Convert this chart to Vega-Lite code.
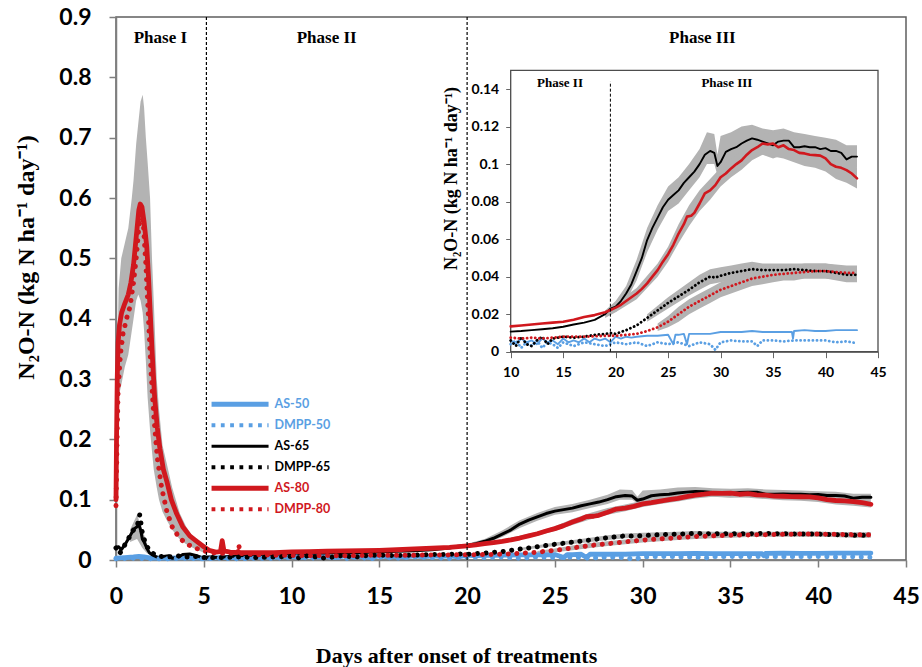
{
  "$schema": "https://vega.github.io/schema/vega-lite/v6.json",
  "width": 790,
  "height": 543,
  "autosize": {"type": "none"},
  "padding": {"left": 116, "top": 17, "right": 16, "bottom": 107},
  "background": "white",
  "config": {
    "view": {"stroke": "#5f5f5f", "strokeWidth": 1.5},
    "axis": {"grid": false},
    "line": {"strokeCap": "round", "strokeJoin": "round"}
  },
  "datasets": {
    "flux": [
      {"s":"AS-50","d":0,"v":0.003},{"s":"AS-50","d":0.5,"v":0.004},{"s":"AS-50","d":1,"v":0.005},{"s":"AS-50","d":1.3,"v":0.006},{"s":"AS-50","d":1.6,"v":0.005},{"s":"AS-50","d":2,"v":0.003},{"s":"AS-50","d":3,"v":0.003},{"s":"AS-50","d":4,"v":0.004},{"s":"AS-50","d":5,"v":0.003},{"s":"AS-50","d":6,"v":0.004},{"s":"AS-50","d":7,"v":0.004},{"s":"AS-50","d":8,"v":0.005},{"s":"AS-50","d":9,"v":0.005},{"s":"AS-50","d":10,"v":0.006},{"s":"AS-50","d":10.5,"v":0.004},{"s":"AS-50","d":11,"v":0.007},{"s":"AS-50","d":11.5,"v":0.005},{"s":"AS-50","d":12,"v":0.006},{"s":"AS-50","d":12.5,"v":0.004},{"s":"AS-50","d":13,"v":0.007},{"s":"AS-50","d":13.5,"v":0.005},{"s":"AS-50","d":14,"v":0.006},{"s":"AS-50","d":14.5,"v":0.004},{"s":"AS-50","d":15,"v":0.007},{"s":"AS-50","d":15.5,"v":0.005},{"s":"AS-50","d":16,"v":0.006},{"s":"AS-50","d":16.5,"v":0.005},{"s":"AS-50","d":17,"v":0.007},{"s":"AS-50","d":17.5,"v":0.005},{"s":"AS-50","d":18,"v":0.007},{"s":"AS-50","d":18.5,"v":0.006},{"s":"AS-50","d":19,"v":0.007},{"s":"AS-50","d":19.5,"v":0.005},{"s":"AS-50","d":20,"v":0.008},{"s":"AS-50","d":20.5,"v":0.007},{"s":"AS-50","d":21,"v":0.008},{"s":"AS-50","d":21.5,"v":0.0075},{"s":"AS-50","d":22,"v":0.008},{"s":"AS-50","d":23,"v":0.0085},{"s":"AS-50","d":24,"v":0.0085},{"s":"AS-50","d":25,"v":0.009},{"s":"AS-50","d":25.5,"v":0.004},{"s":"AS-50","d":25.7,"v":0.009},{"s":"AS-50","d":26,"v":0.009},{"s":"AS-50","d":26.5,"v":0.0095},{"s":"AS-50","d":26.8,"v":0.004},{"s":"AS-50","d":27,"v":0.0095},{"s":"AS-50","d":28,"v":0.0095},{"s":"AS-50","d":29,"v":0.0095},{"s":"AS-50","d":30,"v":0.0105},{"s":"AS-50","d":31,"v":0.0105},{"s":"AS-50","d":32,"v":0.0105},{"s":"AS-50","d":33,"v":0.011},{"s":"AS-50","d":34,"v":0.0105},{"s":"AS-50","d":35,"v":0.0105},{"s":"AS-50","d":36,"v":0.0105},{"s":"AS-50","d":36.8,"v":0.0105},{"s":"AS-50","d":36.9,"v":0.007},{"s":"AS-50","d":37,"v":0.011},{"s":"AS-50","d":38,"v":0.0115},{"s":"AS-50","d":39,"v":0.011},{"s":"AS-50","d":40,"v":0.011},{"s":"AS-50","d":41,"v":0.0115},{"s":"AS-50","d":42,"v":0.0115},{"s":"AS-50","d":43,"v":0.0115},

      {"s":"DMPP-50","d":0,"v":0.002},{"s":"DMPP-50","d":1,"v":0.003},{"s":"DMPP-50","d":2,"v":0.002},{"s":"DMPP-50","d":3,"v":0.002},{"s":"DMPP-50","d":4,"v":0.003},{"s":"DMPP-50","d":5,"v":0.002},{"s":"DMPP-50","d":6,"v":0.003},{"s":"DMPP-50","d":7,"v":0.002},{"s":"DMPP-50","d":8,"v":0.003},{"s":"DMPP-50","d":9,"v":0.003},{"s":"DMPP-50","d":10,"v":0.004},{"s":"DMPP-50","d":10.5,"v":0.006},{"s":"DMPP-50","d":11,"v":0.002},{"s":"DMPP-50","d":11.5,"v":0.005},{"s":"DMPP-50","d":12,"v":0.003},{"s":"DMPP-50","d":12.5,"v":0.006},{"s":"DMPP-50","d":13,"v":0.002},{"s":"DMPP-50","d":13.5,"v":0.005},{"s":"DMPP-50","d":14,"v":0.004},{"s":"DMPP-50","d":14.5,"v":0.002},{"s":"DMPP-50","d":15,"v":0.005},{"s":"DMPP-50","d":16,"v":0.003},{"s":"DMPP-50","d":17,"v":0.005},{"s":"DMPP-50","d":18,"v":0.004},{"s":"DMPP-50","d":19,"v":0.003},{"s":"DMPP-50","d":20,"v":0.005},{"s":"DMPP-50","d":21,"v":0.004},{"s":"DMPP-50","d":22,"v":0.005},{"s":"DMPP-50","d":23,"v":0.003},{"s":"DMPP-50","d":24,"v":0.005},{"s":"DMPP-50","d":25,"v":0.004},{"s":"DMPP-50","d":26,"v":0.005},{"s":"DMPP-50","d":27,"v":0.003},{"s":"DMPP-50","d":28,"v":0.005},{"s":"DMPP-50","d":29,"v":0.004},{"s":"DMPP-50","d":29.5,"v":0.001},{"s":"DMPP-50","d":30,"v":0.005},{"s":"DMPP-50","d":31,"v":0.006},{"s":"DMPP-50","d":32,"v":0.0055},{"s":"DMPP-50","d":33,"v":0.0055},{"s":"DMPP-50","d":33.5,"v":0.003},{"s":"DMPP-50","d":34,"v":0.006},{"s":"DMPP-50","d":35,"v":0.006},{"s":"DMPP-50","d":36,"v":0.0055},{"s":"DMPP-50","d":37,"v":0.006},{"s":"DMPP-50","d":38,"v":0.006},{"s":"DMPP-50","d":39,"v":0.006},{"s":"DMPP-50","d":40,"v":0.006},{"s":"DMPP-50","d":41,"v":0.005},{"s":"DMPP-50","d":42,"v":0.0055},{"s":"DMPP-50","d":43,"v":0.0045},

      {"s":"AS-65","d":0,"v":0.02},{"s":"AS-65","d":0.15,"v":0.022},{"s":"AS-65","d":0.3,"v":0.017},{"s":"AS-65","d":0.5,"v":0.025},{"s":"AS-65","d":0.7,"v":0.035},{"s":"AS-65","d":0.9,"v":0.045},{"s":"AS-65","d":1.05,"v":0.052},{"s":"AS-65","d":1.2,"v":0.055},{"s":"AS-65","d":1.3,"v":0.06},{"s":"AS-65","d":1.4,"v":0.05},{"s":"AS-65","d":1.5,"v":0.035},{"s":"AS-65","d":1.6,"v":0.03},{"s":"AS-65","d":1.75,"v":0.02},{"s":"AS-65","d":1.9,"v":0.012},{"s":"AS-65","d":2.1,"v":0.008},{"s":"AS-65","d":2.4,"v":0.004},{"s":"AS-65","d":2.7,"v":0.006},{"s":"AS-65","d":3,"v":0.007},{"s":"AS-65","d":3.2,"v":0.003},{"s":"AS-65","d":3.5,"v":0.004},{"s":"AS-65","d":3.8,"v":0.009},{"s":"AS-65","d":4.2,"v":0.01},{"s":"AS-65","d":4.6,"v":0.007},{"s":"AS-65","d":4.9,"v":0.004},{"s":"AS-65","d":5.3,"v":0.005},{"s":"AS-65","d":5.8,"v":0.004},{"s":"AS-65","d":6.5,"v":0.006},{"s":"AS-65","d":7,"v":0.007},{"s":"AS-65","d":8,"v":0.008},{"s":"AS-65","d":9,"v":0.0095},{"s":"AS-65","d":10,"v":0.0107},{"s":"AS-65","d":11,"v":0.011},{"s":"AS-65","d":12,"v":0.0115},{"s":"AS-65","d":13,"v":0.012},{"s":"AS-65","d":14,"v":0.0125},{"s":"AS-65","d":15,"v":0.0133},{"s":"AS-65","d":16,"v":0.0145},{"s":"AS-65","d":17,"v":0.0155},{"s":"AS-65","d":18,"v":0.017},{"s":"AS-65","d":19,"v":0.02},{"s":"AS-65","d":19.5,"v":0.023},{"s":"AS-65","d":20,"v":0.024},{"s":"AS-65","d":20.5,"v":0.027},{"s":"AS-65","d":21,"v":0.031},{"s":"AS-65","d":21.5,"v":0.036},{"s":"AS-65","d":22,"v":0.043},{"s":"AS-65","d":22.5,"v":0.05},{"s":"AS-65","d":23,"v":0.0595},{"s":"AS-65","d":23.5,"v":0.066},{"s":"AS-65","d":24,"v":0.0715},{"s":"AS-65","d":24.5,"v":0.077},{"s":"AS-65","d":25,"v":0.081},{"s":"AS-65","d":25.5,"v":0.0835},{"s":"AS-65","d":26,"v":0.086},{"s":"AS-65","d":26.5,"v":0.09},{"s":"AS-65","d":27,"v":0.093},{"s":"AS-65","d":27.5,"v":0.096},{"s":"AS-65","d":28,"v":0.1},{"s":"AS-65","d":28.5,"v":0.105},{"s":"AS-65","d":29,"v":0.107},{"s":"AS-65","d":29.4,"v":0.106},{"s":"AS-65","d":29.7,"v":0.099},{"s":"AS-65","d":30,"v":0.101},{"s":"AS-65","d":30.5,"v":0.1065},{"s":"AS-65","d":31,"v":0.108},{"s":"AS-65","d":31.5,"v":0.109},{"s":"AS-65","d":32,"v":0.111},{"s":"AS-65","d":32.5,"v":0.1125},{"s":"AS-65","d":33,"v":0.1137},{"s":"AS-65","d":33.5,"v":0.113},{"s":"AS-65","d":34,"v":0.112},{"s":"AS-65","d":34.5,"v":0.111},{"s":"AS-65","d":35,"v":0.11},{"s":"AS-65","d":35.5,"v":0.112},{"s":"AS-65","d":36,"v":0.1125},{"s":"AS-65","d":36.5,"v":0.1125},{"s":"AS-65","d":37,"v":0.109},{"s":"AS-65","d":37.5,"v":0.109},{"s":"AS-65","d":38,"v":0.1095},{"s":"AS-65","d":38.5,"v":0.109},{"s":"AS-65","d":39,"v":0.109},{"s":"AS-65","d":39.5,"v":0.108},{"s":"AS-65","d":40,"v":0.1085},{"s":"AS-65","d":40.5,"v":0.107},{"s":"AS-65","d":41,"v":0.107},{"s":"AS-65","d":41.5,"v":0.106},{"s":"AS-65","d":42,"v":0.1025},{"s":"AS-65","d":42.5,"v":0.104},{"s":"AS-65","d":43,"v":0.104},

      {"s":"DMPP-65","d":0,"v":0.02},{"s":"DMPP-65","d":0.2,"v":0.01},{"s":"DMPP-65","d":0.4,"v":0.02},{"s":"DMPP-65","d":0.6,"v":0.03},{"s":"DMPP-65","d":0.8,"v":0.04},{"s":"DMPP-65","d":1,"v":0.05},{"s":"DMPP-65","d":1.2,"v":0.055},{"s":"DMPP-65","d":1.35,"v":0.075},{"s":"DMPP-65","d":1.5,"v":0.045},{"s":"DMPP-65","d":1.7,"v":0.025},{"s":"DMPP-65","d":2,"v":0.012},{"s":"DMPP-65","d":2.5,"v":0.006},{"s":"DMPP-65","d":3,"v":0.005},{"s":"DMPP-65","d":3.5,"v":0.007},{"s":"DMPP-65","d":4,"v":0.005},{"s":"DMPP-65","d":4.5,"v":0.006},{"s":"DMPP-65","d":5,"v":0.004},{"s":"DMPP-65","d":6,"v":0.004},{"s":"DMPP-65","d":7,"v":0.005},{"s":"DMPP-65","d":8,"v":0.004},{"s":"DMPP-65","d":9,"v":0.005},{"s":"DMPP-65","d":10,"v":0.006},{"s":"DMPP-65","d":10.5,"v":0.003},{"s":"DMPP-65","d":11,"v":0.008},{"s":"DMPP-65","d":11.5,"v":0.004},{"s":"DMPP-65","d":12,"v":0.003},{"s":"DMPP-65","d":12.5,"v":0.006},{"s":"DMPP-65","d":13,"v":0.008},{"s":"DMPP-65","d":13.5,"v":0.004},{"s":"DMPP-65","d":14,"v":0.007},{"s":"DMPP-65","d":15,"v":0.008},{"s":"DMPP-65","d":16,"v":0.0075},{"s":"DMPP-65","d":17,"v":0.008},{"s":"DMPP-65","d":18,"v":0.009},{"s":"DMPP-65","d":19,"v":0.0095},{"s":"DMPP-65","d":19.5,"v":0.01},{"s":"DMPP-65","d":20,"v":0.0095},{"s":"DMPP-65","d":21,"v":0.0115},{"s":"DMPP-65","d":22,"v":0.014},{"s":"DMPP-65","d":23,"v":0.018},{"s":"DMPP-65","d":24,"v":0.022},{"s":"DMPP-65","d":25,"v":0.026},{"s":"DMPP-65","d":26,"v":0.0295},{"s":"DMPP-65","d":27,"v":0.033},{"s":"DMPP-65","d":28,"v":0.037},{"s":"DMPP-65","d":29,"v":0.04},{"s":"DMPP-65","d":29.5,"v":0.0395},{"s":"DMPP-65","d":30,"v":0.0405},{"s":"DMPP-65","d":31,"v":0.042},{"s":"DMPP-65","d":32,"v":0.043},{"s":"DMPP-65","d":33,"v":0.044},{"s":"DMPP-65","d":34,"v":0.0435},{"s":"DMPP-65","d":35,"v":0.0435},{"s":"DMPP-65","d":36,"v":0.0435},{"s":"DMPP-65","d":37,"v":0.044},{"s":"DMPP-65","d":38,"v":0.0435},{"s":"DMPP-65","d":39,"v":0.043},{"s":"DMPP-65","d":40,"v":0.043},{"s":"DMPP-65","d":41,"v":0.042},{"s":"DMPP-65","d":42,"v":0.041},{"s":"DMPP-65","d":43,"v":0.041},

      {"s":"AS-80","d":0,"v":0.1},{"s":"AS-80","d":0.03,"v":0.2},{"s":"AS-80","d":0.07,"v":0.3},{"s":"AS-80","d":0.12,"v":0.36},{"s":"AS-80","d":0.2,"v":0.39},{"s":"AS-80","d":0.32,"v":0.41},{"s":"AS-80","d":0.5,"v":0.425},{"s":"AS-80","d":0.7,"v":0.44},{"s":"AS-80","d":0.85,"v":0.46},{"s":"AS-80","d":1,"v":0.49},{"s":"AS-80","d":1.1,"v":0.52},{"s":"AS-80","d":1.2,"v":0.55},{"s":"AS-80","d":1.3,"v":0.58},{"s":"AS-80","d":1.38,"v":0.59},{"s":"AS-80","d":1.48,"v":0.585},{"s":"AS-80","d":1.6,"v":0.56},{"s":"AS-80","d":1.75,"v":0.52},{"s":"AS-80","d":1.85,"v":0.47},{"s":"AS-80","d":1.95,"v":0.41},{"s":"AS-80","d":2.05,"v":0.35},{"s":"AS-80","d":2.2,"v":0.27},{"s":"AS-80","d":2.35,"v":0.22},{"s":"AS-80","d":2.5,"v":0.185},{"s":"AS-80","d":2.7,"v":0.15},{"s":"AS-80","d":2.9,"v":0.13},{"s":"AS-80","d":3.15,"v":0.1},{"s":"AS-80","d":3.45,"v":0.077},{"s":"AS-80","d":3.8,"v":0.055},{"s":"AS-80","d":4.2,"v":0.04},{"s":"AS-80","d":4.6,"v":0.031},{"s":"AS-80","d":5,"v":0.022},{"s":"AS-80","d":5.3,"v":0.016},{"s":"AS-80","d":5.7,"v":0.013},{"s":"AS-80","d":5.95,"v":0.014},{"s":"AS-80","d":6.05,"v":0.032},{"s":"AS-80","d":6.15,"v":0.015},{"s":"AS-80","d":6.5,"v":0.013},{"s":"AS-80","d":7,"v":0.012},{"s":"AS-80","d":8,"v":0.012},{"s":"AS-80","d":9,"v":0.012},{"s":"AS-80","d":10,"v":0.0135},{"s":"AS-80","d":11,"v":0.014},{"s":"AS-80","d":12,"v":0.0145},{"s":"AS-80","d":13,"v":0.015},{"s":"AS-80","d":14,"v":0.0155},{"s":"AS-80","d":15,"v":0.016},{"s":"AS-80","d":16,"v":0.017},{"s":"AS-80","d":17,"v":0.0185},{"s":"AS-80","d":18,"v":0.0195},{"s":"AS-80","d":19,"v":0.021},{"s":"AS-80","d":19.5,"v":0.0222},{"s":"AS-80","d":20,"v":0.0235},{"s":"AS-80","d":20.5,"v":0.025},{"s":"AS-80","d":21,"v":0.027},{"s":"AS-80","d":21.5,"v":0.029},{"s":"AS-80","d":22,"v":0.031},{"s":"AS-80","d":22.5,"v":0.0335},{"s":"AS-80","d":23,"v":0.0364},{"s":"AS-80","d":23.5,"v":0.04},{"s":"AS-80","d":24,"v":0.0435},{"s":"AS-80","d":24.5,"v":0.048},{"s":"AS-80","d":25,"v":0.052},{"s":"AS-80","d":25.5,"v":0.057},{"s":"AS-80","d":26,"v":0.063},{"s":"AS-80","d":26.5,"v":0.068},{"s":"AS-80","d":26.8,"v":0.072},{"s":"AS-80","d":27.2,"v":0.0725},{"s":"AS-80","d":27.5,"v":0.074},{"s":"AS-80","d":28,"v":0.079},{"s":"AS-80","d":28.5,"v":0.0844},{"s":"AS-80","d":29,"v":0.086},{"s":"AS-80","d":29.5,"v":0.0888},{"s":"AS-80","d":30,"v":0.093},{"s":"AS-80","d":30.5,"v":0.095},{"s":"AS-80","d":31,"v":0.0977},{"s":"AS-80","d":31.5,"v":0.1},{"s":"AS-80","d":32,"v":0.102},{"s":"AS-80","d":32.5,"v":0.105},{"s":"AS-80","d":33,"v":0.1075},{"s":"AS-80","d":33.5,"v":0.109},{"s":"AS-80","d":34,"v":0.111},{"s":"AS-80","d":34.5,"v":0.1105},{"s":"AS-80","d":35,"v":0.111},{"s":"AS-80","d":35.5,"v":0.109},{"s":"AS-80","d":36,"v":0.11},{"s":"AS-80","d":36.5,"v":0.108},{"s":"AS-80","d":37,"v":0.1075},{"s":"AS-80","d":37.5,"v":0.106},{"s":"AS-80","d":38,"v":0.1057},{"s":"AS-80","d":38.5,"v":0.105},{"s":"AS-80","d":39,"v":0.1048},{"s":"AS-80","d":39.5,"v":0.1045},{"s":"AS-80","d":40,"v":0.103},{"s":"AS-80","d":40.5,"v":0.1},{"s":"AS-80","d":41,"v":0.0986},{"s":"AS-80","d":41.5,"v":0.098},{"s":"AS-80","d":42,"v":0.0968},{"s":"AS-80","d":42.5,"v":0.095},{"s":"AS-80","d":43,"v":0.0924},

      {"s":"DMPP-80","d":0,"v":0.09},{"s":"DMPP-80","d":0.02,"v":0.12},{"s":"DMPP-80","d":0.06,"v":0.2},{"s":"DMPP-80","d":0.12,"v":0.28},{"s":"DMPP-80","d":0.25,"v":0.34},{"s":"DMPP-80","d":0.4,"v":0.375},{"s":"DMPP-80","d":0.6,"v":0.4},{"s":"DMPP-80","d":0.8,"v":0.42},{"s":"DMPP-80","d":1,"v":0.46},{"s":"DMPP-80","d":1.15,"v":0.5},{"s":"DMPP-80","d":1.3,"v":0.55},{"s":"DMPP-80","d":1.42,"v":0.575},{"s":"DMPP-80","d":1.55,"v":0.56},{"s":"DMPP-80","d":1.7,"v":0.49},{"s":"DMPP-80","d":1.85,"v":0.4},{"s":"DMPP-80","d":2,"v":0.31},{"s":"DMPP-80","d":2.15,"v":0.24},{"s":"DMPP-80","d":2.35,"v":0.17},{"s":"DMPP-80","d":2.6,"v":0.12},{"s":"DMPP-80","d":2.9,"v":0.08},{"s":"DMPP-80","d":3.2,"v":0.055},{"s":"DMPP-80","d":3.6,"v":0.037},{"s":"DMPP-80","d":4,"v":0.027},{"s":"DMPP-80","d":4.5,"v":0.02},{"s":"DMPP-80","d":5,"v":0.015},{"s":"DMPP-80","d":5.5,"v":0.012},{"s":"DMPP-80","d":6,"v":0.011},{"s":"DMPP-80","d":6.5,"v":0.011},{"s":"DMPP-80","d":6.95,"v":0.011},{"s":"DMPP-80","d":7,"v":0.025},{"s":"DMPP-80","d":7.05,"v":0.011},{"s":"DMPP-80","d":8,"v":0.009},{"s":"DMPP-80","d":9,"v":0.008},{"s":"DMPP-80","d":10,"v":0.0075},{"s":"DMPP-80","d":11,"v":0.007},{"s":"DMPP-80","d":12,"v":0.0075},{"s":"DMPP-80","d":13,"v":0.007},{"s":"DMPP-80","d":14,"v":0.0075},{"s":"DMPP-80","d":15,"v":0.008},{"s":"DMPP-80","d":16,"v":0.008},{"s":"DMPP-80","d":17,"v":0.008},{"s":"DMPP-80","d":18,"v":0.0082},{"s":"DMPP-80","d":19,"v":0.0085},{"s":"DMPP-80","d":20,"v":0.0085},{"s":"DMPP-80","d":21,"v":0.009},{"s":"DMPP-80","d":22,"v":0.0095},{"s":"DMPP-80","d":23,"v":0.011},{"s":"DMPP-80","d":24,"v":0.013},{"s":"DMPP-80","d":25,"v":0.016},{"s":"DMPP-80","d":26,"v":0.02},{"s":"DMPP-80","d":27,"v":0.024},{"s":"DMPP-80","d":28,"v":0.027},{"s":"DMPP-80","d":29,"v":0.03},{"s":"DMPP-80","d":30,"v":0.033},{"s":"DMPP-80","d":31,"v":0.035},{"s":"DMPP-80","d":32,"v":0.037},{"s":"DMPP-80","d":33,"v":0.039},{"s":"DMPP-80","d":34,"v":0.04},{"s":"DMPP-80","d":35,"v":0.041},{"s":"DMPP-80","d":36,"v":0.0415},{"s":"DMPP-80","d":37,"v":0.042},{"s":"DMPP-80","d":38,"v":0.0425},{"s":"DMPP-80","d":39,"v":0.043},{"s":"DMPP-80","d":40,"v":0.043},{"s":"DMPP-80","d":41,"v":0.0425},{"s":"DMPP-80","d":42,"v":0.042},{"s":"DMPP-80","d":43,"v":0.042}
    ],
    "band": [
      {"g":"p1","d":0,"lo":0.09,"hi":0.11},{"g":"p1","d":0.05,"lo":0.2,"hi":0.3},{"g":"p1","d":0.15,"lo":0.27,"hi":0.45},{"g":"p1","d":0.3,"lo":0.29,"hi":0.5},{"g":"p1","d":0.5,"lo":0.32,"hi":0.525},{"g":"p1","d":0.7,"lo":0.34,"hi":0.55},{"g":"p1","d":0.9,"lo":0.38,"hi":0.6},{"g":"p1","d":1,"lo":0.4,"hi":0.63},{"g":"p1","d":1.15,"lo":0.43,"hi":0.69},{"g":"p1","d":1.27,"lo":0.44,"hi":0.724},{"g":"p1","d":1.4,"lo":0.43,"hi":0.76},{"g":"p1","d":1.52,"lo":0.41,"hi":0.771},{"g":"p1","d":1.6,"lo":0.38,"hi":0.75},{"g":"p1","d":1.7,"lo":0.33,"hi":0.7},{"g":"p1","d":1.8,"lo":0.27,"hi":0.66},{"g":"p1","d":1.94,"lo":0.215,"hi":0.6},{"g":"p1","d":2.05,"lo":0.18,"hi":0.5},{"g":"p1","d":2.15,"lo":0.15,"hi":0.43},{"g":"p1","d":2.32,"lo":0.12,"hi":0.3},{"g":"p1","d":2.45,"lo":0.1,"hi":0.25},{"g":"p1","d":2.65,"lo":0.08,"hi":0.19},{"g":"p1","d":2.89,"lo":0.066,"hi":0.16},{"g":"p1","d":3.2,"lo":0.05,"hi":0.12},{"g":"p1","d":3.64,"lo":0.034,"hi":0.077},{"g":"p1","d":4,"lo":0.026,"hi":0.055},{"g":"p1","d":4.4,"lo":0.02,"hi":0.038},{"g":"p1","d":5,"lo":0.012,"hi":0.02},
      {"g":"e65","d":0.8,"lo":0.03,"hi":0.05},{"g":"e65","d":1.2,"lo":0.035,"hi":0.075},{"g":"e65","d":1.5,"lo":0.02,"hi":0.05},{"g":"e65","d":1.8,"lo":0.01,"hi":0.025},
      {"g":"a65","d":19,"lo":0.018,"hi":0.022},{"g":"a65","d":20,"lo":0.021,"hi":0.027},{"g":"a65","d":21,"lo":0.027,"hi":0.035},{"g":"a65","d":22,"lo":0.038,"hi":0.049},{"g":"a65","d":23,"lo":0.053,"hi":0.066},{"g":"a65","d":24,"lo":0.065,"hi":0.078},{"g":"a65","d":25,"lo":0.075,"hi":0.088},{"g":"a65","d":26,"lo":0.079,"hi":0.093},{"g":"a65","d":27,"lo":0.086,"hi":0.1},{"g":"a65","d":28,"lo":0.093,"hi":0.108},{"g":"a65","d":28.7,"lo":0.1,"hi":0.117},{"g":"a65","d":29.4,"lo":0.1,"hi":0.116},{"g":"a65","d":29.7,"lo":0.094,"hi":0.105},{"g":"a65","d":30,"lo":0.096,"hi":0.115},{"g":"a65","d":31,"lo":0.101,"hi":0.117},{"g":"a65","d":32,"lo":0.104,"hi":0.12},{"g":"a65","d":33,"lo":0.106,"hi":0.121},{"g":"a65","d":34,"lo":0.105,"hi":0.119},{"g":"a65","d":35,"lo":0.103,"hi":0.118},{"g":"a65","d":36,"lo":0.105,"hi":0.119},{"g":"a65","d":37,"lo":0.102,"hi":0.117},{"g":"a65","d":38,"lo":0.102,"hi":0.116},{"g":"a65","d":39,"lo":0.102,"hi":0.115},{"g":"a65","d":40,"lo":0.101,"hi":0.114},{"g":"a65","d":41,"lo":0.1,"hi":0.113},{"g":"a65","d":42,"lo":0.097,"hi":0.11},{"g":"a65","d":43,"lo":0.098,"hi":0.11},
      {"g":"a80","d":20,"lo":0.021,"hi":0.026},{"g":"a80","d":22,"lo":0.028,"hi":0.034},{"g":"a80","d":24,"lo":0.04,"hi":0.047},{"g":"a80","d":25,"lo":0.048,"hi":0.056},{"g":"a80","d":26,"lo":0.058,"hi":0.068},{"g":"a80","d":27,"lo":0.067,"hi":0.078},{"g":"a80","d":28,"lo":0.075,"hi":0.086},{"g":"a80","d":29,"lo":0.081,"hi":0.092},{"g":"a80","d":30,"lo":0.088,"hi":0.098},{"g":"a80","d":31,"lo":0.093,"hi":0.103},{"g":"a80","d":32,"lo":0.097,"hi":0.107},{"g":"a80","d":33,"lo":0.102,"hi":0.112},{"g":"a80","d":34,"lo":0.105,"hi":0.116},{"g":"a80","d":35,"lo":0.104,"hi":0.117},{"g":"a80","d":36,"lo":0.103,"hi":0.116},{"g":"a80","d":37,"lo":0.101,"hi":0.114},{"g":"a80","d":38,"lo":0.099,"hi":0.112},{"g":"a80","d":39,"lo":0.098,"hi":0.111},{"g":"a80","d":40,"lo":0.096,"hi":0.109},{"g":"a80","d":41,"lo":0.092,"hi":0.105},{"g":"a80","d":42,"lo":0.09,"hi":0.103},{"g":"a80","d":43,"lo":0.087,"hi":0.098},
      {"g":"d65","d":23,"lo":0.016,"hi":0.02},{"g":"d65","d":25,"lo":0.023,"hi":0.029},{"g":"d65","d":27,"lo":0.03,"hi":0.037},{"g":"d65","d":28,"lo":0.033,"hi":0.041},{"g":"d65","d":29,"lo":0.036,"hi":0.044},{"g":"d65","d":30,"lo":0.037,"hi":0.045},{"g":"d65","d":31,"lo":0.038,"hi":0.046},{"g":"d65","d":32,"lo":0.039,"hi":0.047},{"g":"d65","d":33,"lo":0.04,"hi":0.048},{"g":"d65","d":34,"lo":0.039,"hi":0.047},{"g":"d65","d":36,"lo":0.039,"hi":0.047},{"g":"d65","d":38,"lo":0.039,"hi":0.047},{"g":"d65","d":40,"lo":0.039,"hi":0.047},{"g":"d65","d":42,"lo":0.037,"hi":0.045},{"g":"d65","d":43,"lo":0.037,"hi":0.045},
      {"g":"d80","d":24,"lo":0.011,"hi":0.015},{"g":"d80","d":25,"lo":0.013,"hi":0.019},{"g":"d80","d":26,"lo":0.016,"hi":0.024},{"g":"d80","d":27,"lo":0.02,"hi":0.028},{"g":"d80","d":28,"lo":0.023,"hi":0.031},{"g":"d80","d":29,"lo":0.026,"hi":0.034},{"g":"d80","d":30,"lo":0.029,"hi":0.037},{"g":"d80","d":31,"lo":0.031,"hi":0.039},{"g":"d80","d":32,"lo":0.033,"hi":0.041},{"g":"d80","d":33,"lo":0.035,"hi":0.043},{"g":"d80","d":34,"lo":0.036,"hi":0.044},{"g":"d80","d":35,"lo":0.037,"hi":0.045},{"g":"d80","d":36,"lo":0.038,"hi":0.046},{"g":"d80","d":37,"lo":0.038,"hi":0.046},{"g":"d80","d":38,"lo":0.039,"hi":0.047},{"g":"d80","d":40,"lo":0.039,"hi":0.047},{"g":"d80","d":42,"lo":0.038,"hi":0.046},{"g":"d80","d":43,"lo":0.038,"hi":0.046}
    ]
  },
  "resolve": {
    "scale": {"x": "independent", "y": "independent"},
    "axis": {"x": "independent", "y": "independent"}
  },
  "layer": [
    {
      "layer": [
        {
          "data": {"name": "band"},
          "mark": {"type": "area", "color": "#b3b3b3", "opacity": 1},
          "encoding": {
            "x": {
              "field": "d", "type": "quantitative",
              "scale": {"domain": [0, 45], "nice": false, "zero": false},
              "axis": {
                "title": "Days after onset of treatments",
                "values": [0, 5, 10, 15, 20, 25, 30, 35, 40, 45],
                "labelFont": "Lato", "labelFontWeight": "bold", "labelFontSize": 23, "labelColor": "#000",
                "labelBaseline": "alphabetic", "labelPadding": 36, "labelFlush": false,
                "tickSize": 7, "tickColor": "#7f7f7f", "tickWidth": 1.5,
                "domainColor": "#7f7f7f", "domainWidth": 1.5,
                "titleFont": "Liberation Serif", "titleFontWeight": "bold", "titleFontSize": 22, "titleColor": "#000",
                "titleX": 340, "titleY": 102, "titleBaseline": "alphabetic", "titleAlign": "center"
              }
            },
            "y": {
              "field": "lo", "type": "quantitative",
              "scale": {"domain": [0, 0.9], "nice": false},
              "axis": {
                "title": "N₂O-N  (kg N ha⁻¹ day⁻¹)",
                "values": [0, 0.1, 0.2, 0.3, 0.4, 0.5, 0.6, 0.7, 0.8, 0.9],
                "format": "~g",
                "labelFont": "Lato", "labelFontWeight": "bold", "labelFontSize": 23, "labelColor": "#000",
                "labelPadding": 18, "labelFlush": false,
                "tickSize": 7, "tickColor": "#7f7f7f", "tickWidth": 1.5,
                "domainColor": "#7f7f7f", "domainWidth": 1.5,
                "titleFont": "Liberation Serif", "titleFontWeight": "bold", "titleFontSize": 24, "titleColor": "#000",
                "titleX": -83, "titleY": 240, "titleBaseline": "alphabetic", "titleAlign": "center", "titleAngle": -90
              }
            },
            "y2": {"field": "hi"},
            "detail": {"field": "g"}
          }
        },
        {
          "data": {"name": "flux"},
          "transform": [{"filter": {"field": "s", "oneOf": ["AS-50", "AS-65", "AS-80"]}}],
          "mark": {"type": "line", "strokeCap": "round", "strokeJoin": "round"},
          "encoding": {
            "x": {"field": "d", "type": "quantitative"},
            "y": {"field": "v", "type": "quantitative"},
            "color": {
              "field": "s", "type": "nominal",
              "scale": {
                "domain": ["AS-50", "DMPP-50", "AS-65", "DMPP-65", "AS-80", "DMPP-80"],
                "range": ["#5a9fe3", "#5a9fe3", "#000000", "#000000", "#d0181e", "#d0181e"]
              },
              "legend": {
                "title": null, "orient": "none", "legendX": 95, "legendY": 381,
                "symbolType": "M-1,0H9", "symbolSize": 130,
                "symbolStrokeWidth": {"expr": "datum.value === 'AS-65' ? 3 : (datum.value === 'DMPP-50' || datum.value === 'DMPP-65' || datum.value === 'DMPP-80' ? 4.2 : 5)"},
                "symbolDash": {"expr": "indexof(datum.value, 'DMPP') >= 0 ? [3.8, 5.5] : [1, 0]"},
                "labelColor": {"expr": "scale('color', datum.value)"},
                "labelFont": "Lato", "labelFontWeight": "bold", "labelFontSize": 12.5,
                "labelOffset": 51, "rowPadding": 8, "padding": 0
              }
            },
            "strokeWidth": {"condition": {"test": "datum.s === 'AS-65'", "value": 3}, "value": 4.8}
          }
        },
        {
          "data": {"name": "flux"},
          "transform": [{"filter": {"field": "s", "oneOf": ["DMPP-50", "DMPP-65", "DMPP-80"]}}],
          "mark": {"type": "line", "strokeCap": "round", "strokeJoin": "round", "strokeDash": [0.1, 8.5], "strokeWidth": 5},
          "encoding": {
            "x": {"field": "d", "type": "quantitative"},
            "y": {"field": "v", "type": "quantitative"},
            "color": {"field": "s", "type": "nominal"}
          }
        },
        {
          "data": {"values": [{"d": 5.15}, {"d": 20}]},
          "mark": {"type": "rule", "color": "#000", "strokeWidth": 1.2, "strokeDash": [3, 2]},
          "encoding": {"x": {"field": "d", "type": "quantitative"}}
        },
        {
          "data": {"values": [{"p": "Phase I", "d": 2.53}, {"p": "Phase II", "d": 12.0}, {"p": "Phase III", "d": 33.4}]},
          "mark": {"type": "text", "font": "Liberation Serif", "fontWeight": "bold", "fontSize": 17, "color": "#000", "baseline": "middle", "align": "center"},
          "encoding": {
            "x": {"field": "d", "type": "quantitative"},
            "y": {"datum": 0.865, "type": "quantitative"},
            "text": {"field": "p"}
          }
        }
      ]
    },
    {
      "layer": [
        {
          "data": {"values": [{}]},
          "mark": {"type": "rect", "fill": "white", "stroke": "#4d4d4d", "strokeWidth": 1.3},
          "encoding": {
            "x": {
              "datum": 10, "type": "quantitative",
              "scale": {"domain": [10, 45], "range": [394.7, 762], "nice": false, "zero": false},
              "axis": {
                "orient": "bottom", "offset": -208.3, "title": null,
                "values": [10, 15, 20, 25, 30, 35, 40, 45],
                "labelFont": "Lato", "labelFontWeight": "bold", "labelFontSize": 14, "labelColor": "#000",
                "labelBaseline": "alphabetic", "labelPadding": 19, "labelFlush": false,
                "tickSize": 6, "tickColor": "#666", "domainColor": "#4d4d4d", "domainWidth": 1.3
              }
            },
            "x2": {"datum": 45},
            "y": {
              "datum": 0, "type": "quantitative",
              "scale": {"domain": [0, 0.15], "range": [334.7, 53.3], "nice": false},
              "axis": {
                "orient": "left", "offset": -394.7,
                "title": "N₂O-N  (kg N ha⁻¹ day⁻¹)",
                "values": [0, 0.02, 0.04, 0.06, 0.08, 0.1, 0.12, 0.14],
                "format": "~g",
                "labelFont": "Lato", "labelFontWeight": "bold", "labelFontSize": 14, "labelColor": "#000",
                "labelPadding": 7, "labelFlush": false,
                "tickSize": 5, "tickColor": "#666", "domainColor": "#4d4d4d", "domainWidth": 1.3,
                "titleFont": "Liberation Serif", "titleFontWeight": "bold", "titleFontSize": 18, "titleColor": "#000",
                "titleX": -54, "titleY": 161, "titleBaseline": "alphabetic", "titleAlign": "center", "titleAngle": -90
              }
            },
            "y2": {"datum": 0.15}
          }
        },
        {
          "data": {"name": "band"},
          "transform": [{"filter": "datum.d >= 10"}],
          "mark": {"type": "area", "color": "#b3b3b3", "opacity": 1},
          "encoding": {
            "x": {"field": "d", "type": "quantitative"},
            "y": {"field": "lo", "type": "quantitative"},
            "y2": {"field": "hi"},
            "detail": {"field": "g"}
          }
        },
        {
          "data": {"name": "flux"},
          "transform": [{"filter": "datum.d >= 10"}, {"filter": {"field": "s", "oneOf": ["AS-50", "AS-65", "AS-80"]}}],
          "mark": {"type": "line", "strokeCap": "round", "strokeJoin": "round"},
          "encoding": {
            "x": {"field": "d", "type": "quantitative"},
            "y": {"field": "v", "type": "quantitative"},
            "color": {"field": "s", "type": "nominal"},
            "strokeWidth": {"condition": {"test": "datum.s === 'AS-80'", "value": 2.6}, "value": 1.9}
          }
        },
        {
          "data": {"name": "flux"},
          "transform": [{"filter": "datum.d >= 10"}, {"filter": {"field": "s", "oneOf": ["DMPP-50", "DMPP-65", "DMPP-80"]}}],
          "mark": {"type": "line", "strokeCap": "round", "strokeJoin": "round", "strokeDash": [0.1, 4], "strokeWidth": 2.8},
          "encoding": {
            "x": {"field": "d", "type": "quantitative"},
            "y": {"field": "v", "type": "quantitative"},
            "color": {"field": "s", "type": "nominal"}
          }
        },
        {
          "data": {"values": [{"d": 19.5}]},
          "mark": {"type": "rule", "color": "#000", "strokeWidth": 1, "strokeDash": [3, 2]},
          "encoding": {
            "x": {"field": "d", "type": "quantitative"},
            "y": {"datum": 0, "type": "quantitative"},
            "y2": {"datum": 0.144}
          }
        },
        {
          "data": {"values": [{"p": "Phase II", "d": 14.7}, {"p": "Phase III", "d": 30.6}]},
          "mark": {"type": "text", "font": "Liberation Serif", "fontWeight": "bold", "fontSize": 13, "color": "#000", "baseline": "middle", "align": "center"},
          "encoding": {
            "x": {"field": "d", "type": "quantitative"},
            "y": {"datum": 0.1434, "type": "quantitative"},
            "text": {"field": "p"}
          }
        }
      ]
    }
  ]
}
